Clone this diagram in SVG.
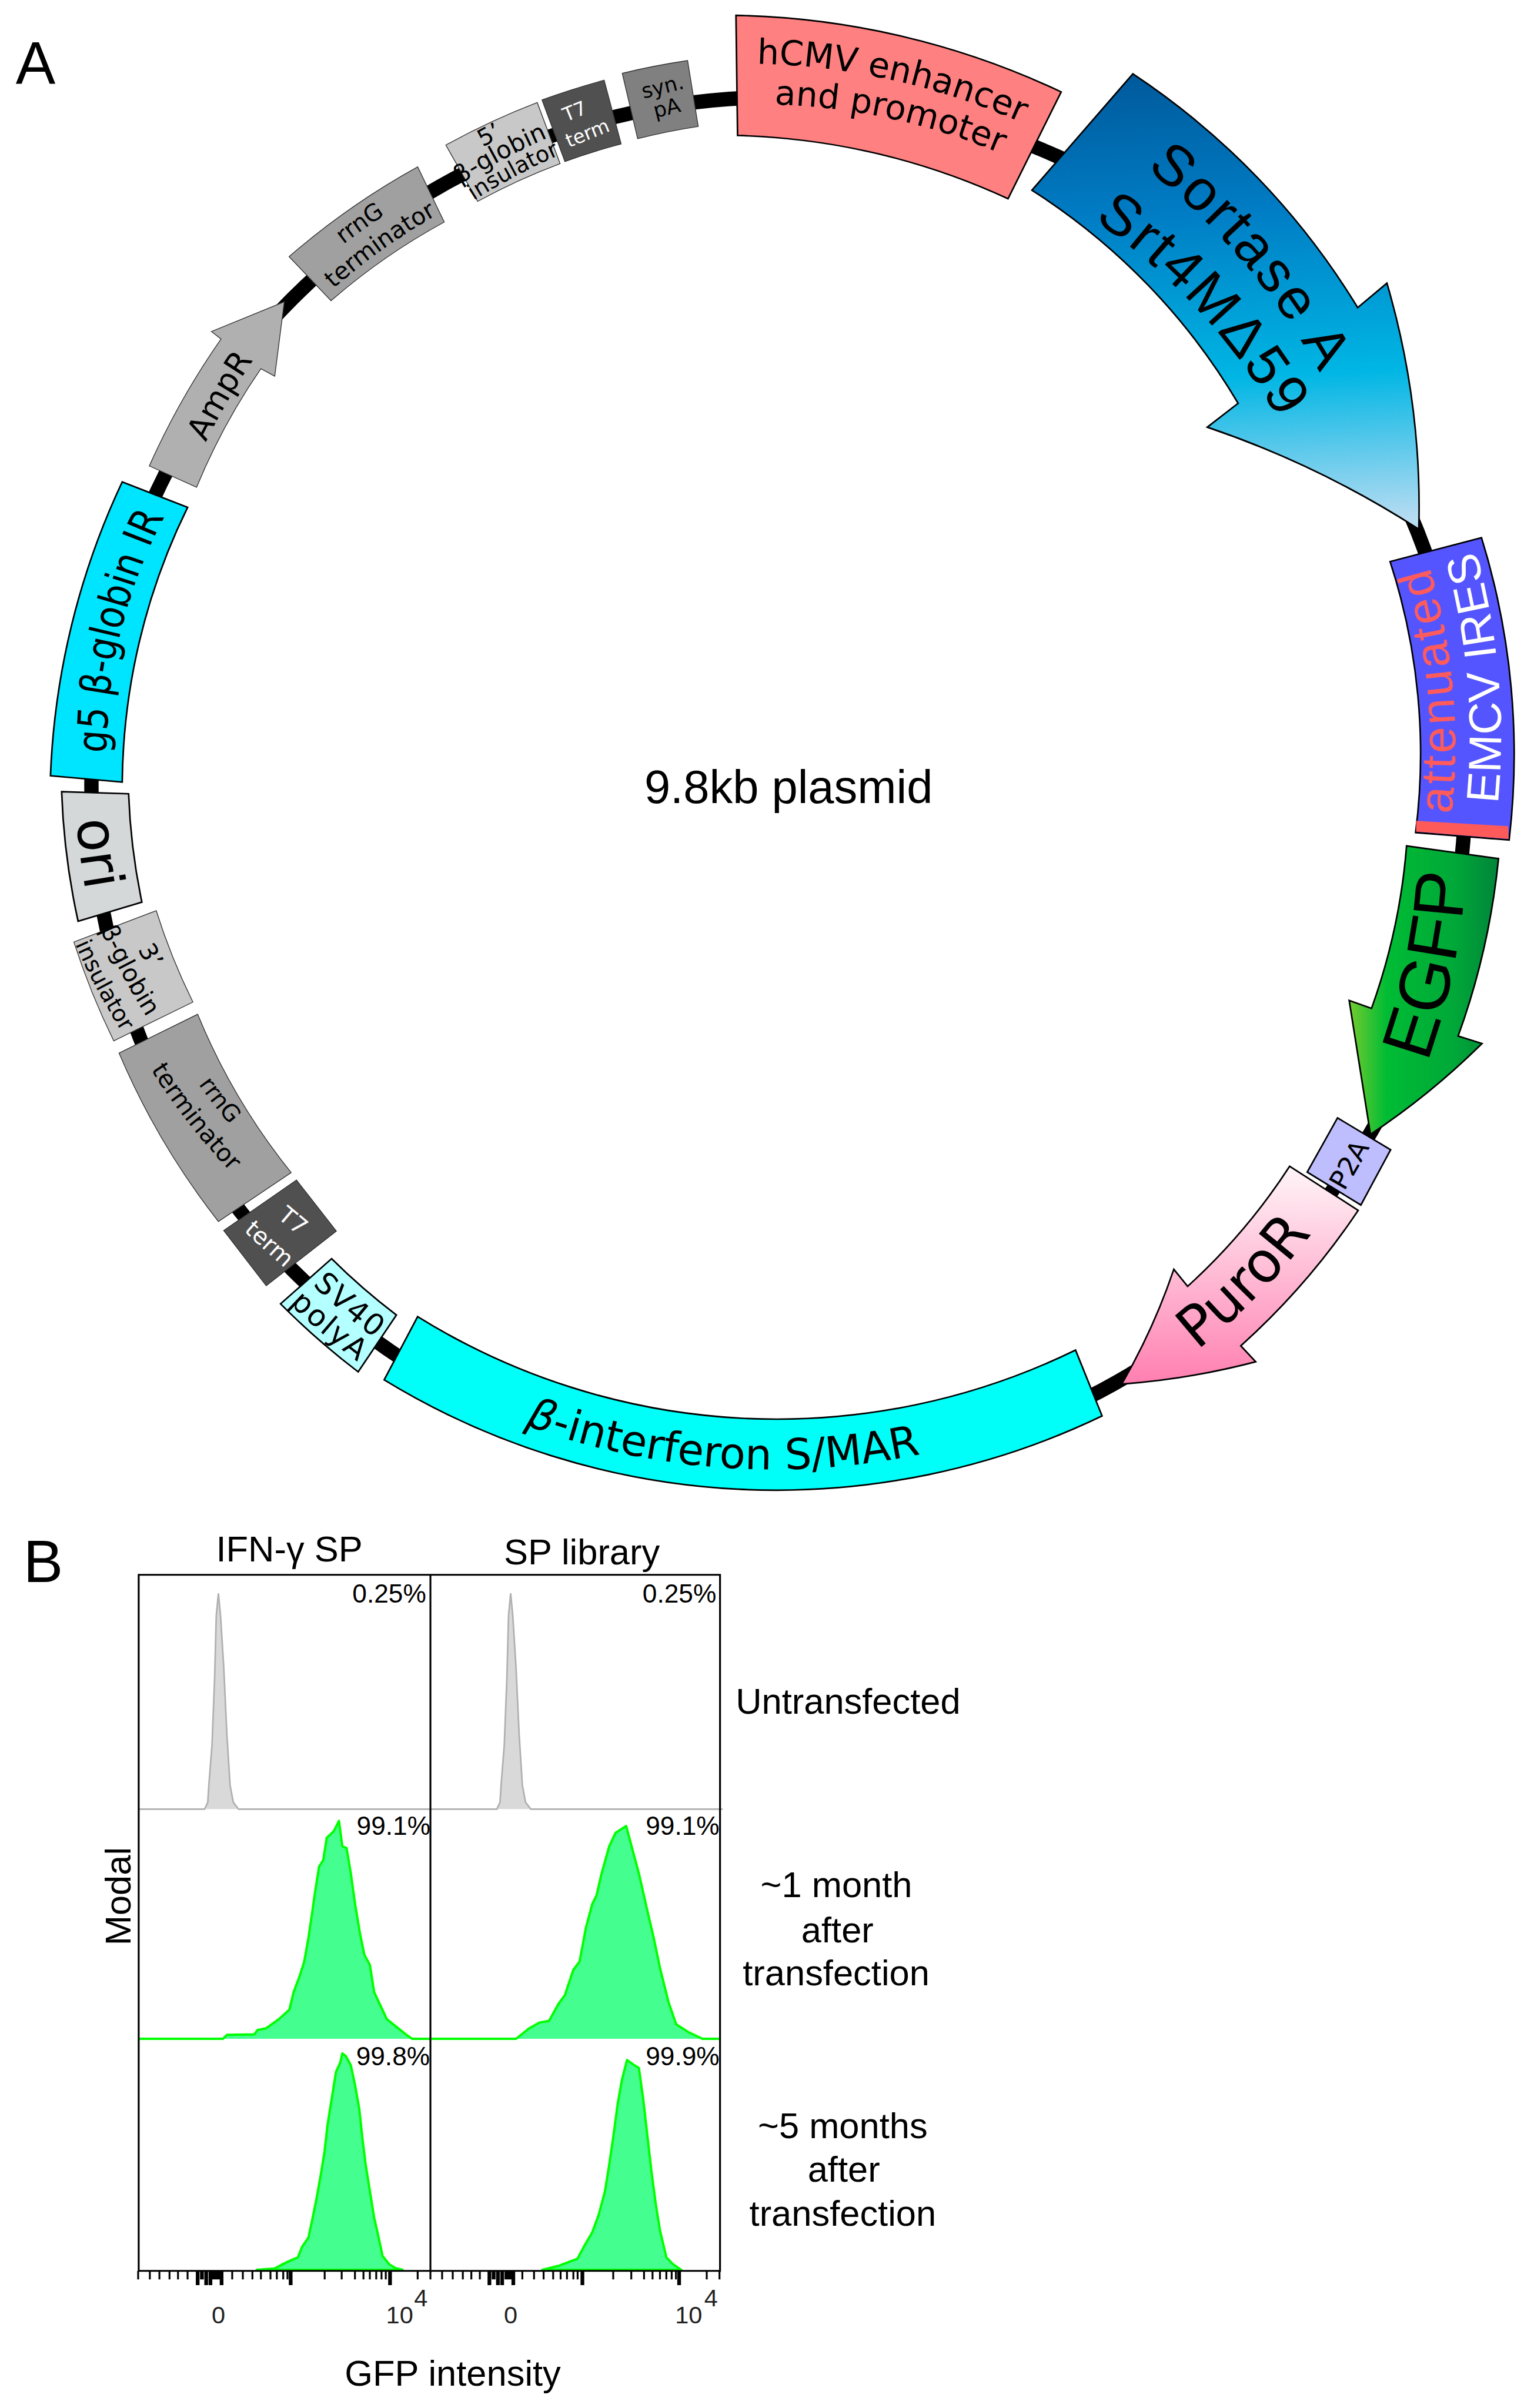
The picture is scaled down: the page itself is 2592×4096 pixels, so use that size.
<svg xmlns="http://www.w3.org/2000/svg" width="2592" height="4096" viewBox="0 0 2592 4096">
<style>
.p{stroke:#000;stroke-width:3;stroke-linejoin:miter}
.t{stroke:#333;stroke-width:1.5}
text{font-family:"DejaVu Sans","Liberation Sans",sans-serif;text-anchor:middle;fill:#000}
.f,.f text,text.a{font-family:"Liberation Sans",Arial,sans-serif}
.w{fill:#fff}
.h{fill:#44ff90;stroke:#00ff00;stroke-width:4;vector-effect:non-scaling-stroke;stroke-linejoin:round}
.g{fill:#d9d9d9;stroke:#b0b0b0;stroke-width:3;vector-effect:non-scaling-stroke}
.pc{font-size:49px;text-anchor:end}
.ax{font-size:46px;fill:#222}
.lb{font-size:68px}
</style>
<defs>
<linearGradient id="gS" gradientUnits="userSpaceOnUse" x1="2240" y1="139" x2="2280" y2="996">
<stop offset="0" stop-color="#005a9c"/><stop offset=".3" stop-color="#007cc4"/><stop offset=".67" stop-color="#00b6e4"/><stop offset="1" stop-color="#b8dcf2"/>
</linearGradient>
<linearGradient id="gE" gradientUnits="userSpaceOnUse" x1="2539" y1="0" x2="2820" y2="0">
<stop offset="0" stop-color="#74cb2f"/><stop offset=".25" stop-color="#00bc34"/><stop offset=".7" stop-color="#00a838"/><stop offset="1" stop-color="#00853a"/>
</linearGradient>
<linearGradient id="gP" gradientUnits="userSpaceOnUse" x1="0" y1="2195" x2="0" y2="2605">
<stop offset="0" stop-color="#fff5f8"/><stop offset="1" stop-color="#ff7fb0"/>
</linearGradient>
<path id="c1300" d="M0,2600A1300,1300 0 1 1 0,0A1300,1300 0 1 1 0,2600"/>
<path id="c1180" d="M0,2360A1180,1180 0 1 1 0,0A1180,1180 0 1 1 0,2360"/>
<path id="w1300" d="M0,-2600A1300,1300 0 1 0 0,0A1300,1300 0 1 0 0,-2600"/>
<path id="w1180" d="M0,-2360A1180,1180 0 1 0 0,0A1180,1180 0 1 0 0,-2360"/>
<path id="w1350" d="M0,-2700A1350,1350 0 1 0 0,0A1350,1350 0 1 0 0,-2700"/>
<path id="hg" d="M261,3405H385L391,3392L393,3360L399,3284L404,3156L407,3041L411,2999L415,3041L421,3137L427,3265L433,3360L439,3392L449,3405H810"/>
</defs>
<rect width="2592" height="4096" fill="#fff"/>
<g transform="scale(0.90377)">
<text class="a" x="67" y="158" font-size="112">A</text>
<text class="a" x="1484" y="1511" font-size="88">9.8kb plasmid</text>
<g id="connectors"><circle cx="1465" cy="1476" r="1293" fill="none" stroke="#000" stroke-width="27"/></g>

<g id="hcmv"><path class="p" fill="#ff8080" d="M1385,29A1500,1500 0 0 1 1997,173L1897,374A1300,1300 0 0 0 1388,255Z"/>
<text font-size="65" transform="translate(1673.5,175) rotate(12.55) translate(0,-25)"><textPath href="#c1300" startOffset="50%">hCMV enhancer</textPath></text>
<text font-size="64" transform="translate(1670,243.5) rotate(12.2) translate(0,-21)"><textPath href="#c1180" startOffset="50%">and promoter</textPath></text></g>

<g id="sortase"><path class="p" fill="url(#gS)" stroke-width="4" d="M2132,139A1400,1400 0 0 1 2555,579L2610,533A1500,1500 0 0 1 2670,996A1800,1800 0 0 0 2272,804L2330,759A1200,1200 0 0 0 1942,358Z"/>
<text class="a" font-size="108" letter-spacing="5" transform="translate(2321,512) rotate(49.8) translate(0,-26)"><textPath href="#c1300" startOffset="50%">Sortase A</textPath></text>
<text class="a" font-size="108" letter-spacing="5" transform="translate(2234,603) rotate(47.3) translate(0,-28)"><textPath href="#c1180" startOffset="50%">Srt4MΔ59</textPath></text></g>

<g id="ires"><path class="p" fill="#5555ff" d="M2616,1057L2788,1012A1380,1380 0 0 1 2840,1581L2664,1567A1170,1170 0 0 0 2616,1057Z"/>
<path fill="#ff5a5a" d="M2665,1545L2838,1555L2839,1579L2665,1565Z"/>
<text class="a" font-size="90" letter-spacing="5" style="fill:#ff5b5b" transform="translate(2714,1297) rotate(-95.2) translate(0,20)"><textPath href="#w1180" startOffset="50%">attenuated</textPath></text>
<text class="a w" font-size="86" letter-spacing="1" transform="translate(2800,1274) rotate(-95) translate(0,20)"><textPath href="#w1300" startOffset="50%">EMCV IRES</textPath></text></g>

<g id="egfp"><path class="p" fill="url(#gE)" d="M2647,1592L2820,1616A1380,1380 0 0 1 2744,1950L2789,1964A1400,1400 0 0 1 2579,2135L2539,1883L2581,1898A1180,1180 0 0 0 2647,1592Z"/>
<text class="a" font-size="134" transform="translate(2723,1822) rotate(-78.4) translate(0,12)"><textPath href="#w1300" startOffset="50%">EGFP</textPath></text></g>

<g id="p2a"><path class="p" fill="#bebeff" d="M2517,2104L2617,2164L2561,2268L2460,2206Z"/>
<text font-size="50" transform="translate(2554,2201) rotate(-60)">P2A</text></g>

<g id="puror"><path class="p" fill="url(#gP)" d="M2427,2195L2556,2278A1350,1350 0 0 1 2335,2533L2363,2563A1400,1400 0 0 1 2111,2605A1200,1200 0 0 0 2209,2389L2235,2421A1150,1150 0 0 0 2427,2195Z"/>
<text font-size="106" transform="translate(2360,2431) rotate(-45.6) translate(0,10)"><textPath href="#w1300" startOffset="50%">PuroR</textPath></text></g>

<g id="sMAR"><path class="p" fill="#00fff8" d="M786,2478A1280,1280 0 0 0 2024,2541L2074,2665A1415,1415 0 0 1 723,2597Z"/>
<text font-size="80" transform="translate(1360,2712) rotate(4.2) translate(0,50)"><textPath href="#w1350" startOffset="50%"><tspan font-style="italic">β</tspan>-interferon S/MAR</textPath></text></g>

<g id="sv40"><path class="p" fill="#b4ffff" d="M624,2369A1200,1200 0 0 0 746,2475L674,2582A1400,1400 0 0 1 528,2454Z"/>
<text font-size="56" letter-spacing="3" transform="translate(648,2469) rotate(40.6) translate(0,3)"><textPath href="#w1300" startOffset="50%">SV40</textPath></text>
<text font-size="56" letter-spacing="3" transform="translate(610,2509) rotate(40.4) translate(0,3)"><textPath href="#w1300" startOffset="50%">polyA</textPath></text></g>

<g id="t7-lower"><path class="t" fill="#505050" d="M421,2316L558,2221L633,2317L501,2420Z"/>
<text font-size="44" class="w" transform="translate(542,2309) rotate(40)">T7</text>
<text font-size="44" class="w" transform="translate(497,2352) rotate(42)">term</text></g>

<g id="rrng-lower"><path class="t" fill="#a0a0a0" d="M372,1909A1200,1200 0 0 0 548,2207L411,2299A1400,1400 0 0 1 224,1982Z"/>
<text font-size="44" transform="translate(404,2078) rotate(52) translate(0,2)"><textPath href="#w1300" startOffset="50%">rrnG</textPath></text>
<text font-size="46" transform="translate(358,2110) rotate(52) translate(0,5)"><textPath href="#w1180" startOffset="50%">terminator</textPath></text></g>

<g id="insulator-3"><path class="t" fill="#c8c8c8" d="M294,1714A1200,1200 0 0 0 363,1886L214,1959A1400,1400 0 0 1 139,1773Z"/>
<text font-size="46" transform="translate(270,1806) rotate(60)">3’</text>
<text font-size="46" transform="translate(232,1832) rotate(62) translate(0,3)"><textPath href="#w1300" startOffset="50%">β-globin</textPath></text>
<text font-size="43" transform="translate(185,1860) rotate(62) translate(0,3)"><textPath href="#w1300" startOffset="50%">insulator</textPath></text></g>

<g id="ori"><path class="p" fill="#d4d8d8" stroke-width="4" d="M116,1490L242,1494A1220,1220 0 0 0 267,1698L147,1734A1350,1350 0 0 1 116,1490Z"/>
<text font-size="104" transform="translate(153,1610) rotate(83) translate(0,2)"><textPath href="#w1300" startOffset="50%">ori</textPath></text></g>

<g id="g5"><path class="p" fill="#00e5ff" d="M95,1460A1430,1430 0 0 1 230,907L353,955A1200,1200 0 0 0 230,1472Z"/>
<text font-size="79" transform="translate(242,1192) rotate(-76.3) translate(0,-15) scale(.84,1)"><textPath href="#c1300" startOffset="50%">g5 β-globin IR</textPath></text></g>

<g id="ampr"><path class="t" fill="#b0b0b0" d="M281,877A1430,1430 0 0 1 416,638L398,624L535,568L517,708L491,694A1200,1200 0 0 0 370,917Z"/>
<text font-size="60" transform="translate(432,755) rotate(-60) translate(0,-3)"><textPath href="#c1300" startOffset="50%">AmpR</textPath></text></g>

<g id="rrng-upper"><path class="t" fill="#a0a0a0" d="M544,483A1400,1400 0 0 1 786,314L836,418A1200,1200 0 0 0 623,566Z"/>
<text font-size="44" transform="translate(686,433) rotate(-35.5) translate(0,-2)"><textPath href="#c1300" startOffset="50%">rrnG</textPath></text>
<text font-size="45" transform="translate(724,473) rotate(-35.5) translate(0,-5)"><textPath href="#c1180" startOffset="50%">terminator</textPath></text></g>

<g id="insulator-5"><path class="t" fill="#c8c8c8" d="M839,273A1400,1400 0 0 1 1011,193L1054,308A1200,1200 0 0 0 899,379Z"/>
<text font-size="44" transform="translate(927,267) rotate(-28)">5’</text>
<text font-size="46" transform="translate(948,303) rotate(-28) translate(0,-3)"><textPath href="#c1300" startOffset="50%">β-globin</textPath></text>
<text font-size="42" transform="translate(972,334) rotate(-28) translate(0,-3)"><textPath href="#c1180" startOffset="50%">insulator</textPath></text></g>

<g id="t7-upper"><path class="t" fill="#505050" d="M1020,188A1400,1400 0 0 1 1137,151L1169,271A1200,1200 0 0 0 1063,304Z"/>
<text font-size="36" class="w" transform="translate(1086,221) rotate(-22)">T7</text>
<text font-size="36" class="w" transform="translate(1110,262) rotate(-22)">term</text></g>

<g id="synpa"><path class="t" fill="#808080" d="M1171,138A1350,1350 0 0 1 1294,114L1314,238A1230,1230 0 0 0 1200,261Z"/>
<text font-size="39" transform="translate(1250,176) rotate(-14)">syn.</text>
<text font-size="39" transform="translate(1258,216) rotate(-14)">pA</text></g>

<g id="panel-b" class="f">
<text x="44" y="2978" font-size="112" style="text-anchor:start">B</text>
<text x="544.5" y="2939" class="lb">IFN-γ SP</text>
<text x="1095" y="2944" class="lb">SP library</text>
<text class="lb" transform="translate(246,3569) rotate(-90)">Modal</text>
<text x="1596" y="3225" class="lb">Untransfected</text>
<text x="1574" y="3571" class="lb">~1 month</text><text x="1576" y="3656" class="lb">after</text><text x="1573.5" y="3737" class="lb">transfection</text>
<text x="1586" y="4024" class="lb">~5 months</text><text x="1588" y="4106" class="lb">after</text><text x="1586" y="4189" class="lb">transfection</text>
<text x="852" y="4490" class="lb">GFP intensity</text>

<g id="histograms">
<use href="#hg" class="g"/>
<use href="#hg" class="g" transform="translate(550,0)"/>
<g transform="translate(150,2850) scale(.7972,.6378)">
<path class="h" d="M140,1548L338,1548L348,1536L412,1535L420,1522L440,1517L470,1490L495,1462L505,1410L520,1360L530,1320L540,1250L550,1165L555,1120L565,1040L575,1020L583,955L600,935L612,905L620,980L630,985L640,1060L650,1150L662,1240L672,1300L685,1330L695,1410L710,1450L725,1490L745,1510L770,1535L785,1548L828,1548"/>
<path class="h" d="M830,1548L1030,1548L1060,1518L1085,1500L1108,1495L1130,1445L1145,1420L1165,1345L1180,1320L1195,1220L1210,1150L1220,1125L1232,1060L1250,980L1265,940L1290,920L1305,990L1320,1060L1340,1170L1355,1250L1370,1340L1390,1440L1408,1505L1435,1527L1470,1548L1510,1548"/>
</g>
<g transform="translate(150,3750) scale(.7972,.4987)">
<path class="h" d="M418,1047L460,1042L480,1025L500,1010L515,1000L525,960L540,925L550,850L560,770L570,680L578,600L585,500L595,400L605,300L615,265L620,230L628,240L640,275L650,350L660,440L668,560L675,650L685,750L695,850L705,920L715,995L730,1025L745,1040L762,1047Z"/>
<path class="h" d="M1092,1047L1130,1032L1150,1020L1175,1005L1190,960L1210,905L1225,840L1240,750L1250,650L1260,540L1270,420L1280,330L1292,255L1305,270L1320,285L1330,400L1340,540L1350,680L1360,800L1370,900L1385,1000L1400,1025L1420,1047Z"/>
</g>
</g>
<path id="frame" fill="none" stroke="#000" stroke-width="3.5" d="M261,2964H1355V4274H261ZM810,2964V4274"/>
<path id="ticks-minor" fill="none" stroke="#000" stroke-width="3.5" d="M260,4274V4290M282,4274V4290M300,4274V4290M319,4274V4290M335,4274V4290M353,4274V4290M437,4274V4290M457,4274V4290M475,4274V4290M491,4274V4290M509,4274V4290M521,4274V4290M533,4274V4290M541,4274V4290M611,4274V4290M643,4274V4290M668,4274V4290M684,4274V4290M696,4274V4290M708,4274V4290M718,4274V4290M726,4274V4290M786,4274V4290M810,4274V4290M832,4274V4290M852,4274V4290M871,4274V4290M887,4274V4290M903,4274V4290M983,4274V4290M1005,4274V4290M1023,4274V4290M1041,4274V4290M1055,4274V4290M1067,4274V4290M1079,4274V4290M1087,4274V4290M1154,4274V4290M1188,4274V4290M1212,4274V4290M1228,4274V4290M1242,4274V4290M1254,4274V4290M1264,4274V4290M1272,4274V4290M1330,4274V4290M1354,4274V4290"/>
<path id="ticks-major" fill="none" stroke="#000" stroke-width="7" d="M372,4274V4301M380,4274V4290M388,4274V4301M396,4274V4301M403,4274V4290M410,4274V4290M417,4274V4301M547,4274V4301M734,4274V4301M921,4274V4301M929,4274V4290M937,4274V4301M945,4274V4301M953,4274V4290M960,4274V4290M966,4274V4301M1096,4274V4301M1278,4274V4301"/>
<text class="pc" x="802" y="3016">0.25%</text><text class="pc" x="1348" y="3016">0.25%</text>
<text class="pc" x="810" y="3453">99.1%</text><text class="pc" x="1354" y="3453">99.1%</text>
<text class="pc" x="809" y="3887">99.8%</text><text class="pc" x="1354" y="3887">99.9%</text>
<text class="ax" x="411" y="4373">0</text><text class="ax" x="752" y="4373">10</text><text class="ax" x="792" y="4341">4</text>
<text class="ax" x="961" y="4373">0</text><text class="ax" x="1296" y="4373">10</text><text class="ax" x="1338" y="4341">4</text>
</g>
</g>
</svg>
